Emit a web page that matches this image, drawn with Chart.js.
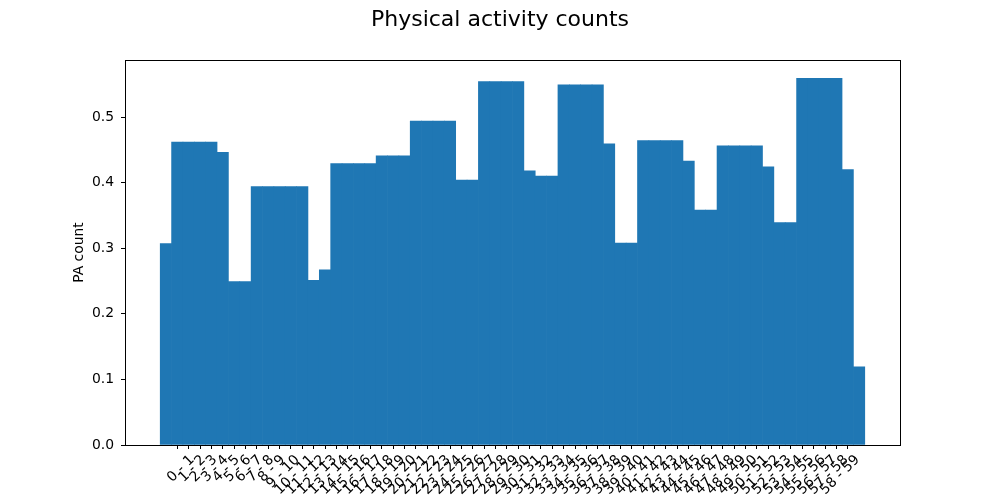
<!DOCTYPE html>
<html>
<head>
<meta charset="utf-8">
<script src="https://cdn.jsdelivr.net/npm/chart.js@4.4.1/dist/chart.umd.min.js"></script>
<style>
    html, body { margin: 0; padding: 0; background: #fff; }
    #wrap { width: 1000px; height: 500px; }
</style>
</head>
<body>
<div id="wrap"><canvas id="paChart" width="1000" height="500"></canvas></div>
<script>
// Tick labels under the x axis, one per tick at 0, 1, ... 58
var tickLabels = [
    '0 - 1', '1 - 2', '2 - 3', '3 - 4', '4 - 5', '5 - 6', '6 - 7', '7 - 8', '8 - 9', '9 - 10',
    '10 - 11', '11 - 12', '12 - 13', '13 - 14', '14 - 15', '15 - 16', '16 - 17', '17 - 18', '18 - 19', '19 - 20',
    '20 - 21', '21 - 22', '22 - 23', '23 - 24', '24 - 25', '25 - 26', '26 - 27', '27 - 28', '28 - 29', '29 - 30',
    '30 - 31', '31 - 32', '32 - 33', '33 - 34', '34 - 35', '35 - 36', '36 - 37', '37 - 38', '38 - 39', '39 - 40',
    '40 - 41', '41 - 42', '42 - 43', '43 - 44', '44 - 45', '45 - 46', '46 - 47', '47 - 48', '48 - 49', '49 - 50',
    '50 - 51', '51 - 52', '52 - 53', '53 - 54', '54 - 55', '55 - 56', '56 - 57', '57 - 58', '58 - 59'
];

// Left edge of the first bin, each bin is one unit wide
var firstBin = -2;

// PA count per bin (62 bins, from -2 to 60)
var paCounts = [
    0.307,
    0.462, 0.462, 0.462, 0.462,
    0.446,
    0.249, 0.249,
    0.394, 0.394, 0.394, 0.394, 0.394,
    0.251,
    0.267,
    0.429, 0.429, 0.429, 0.429,
    0.441, 0.441, 0.441,
    0.494, 0.494, 0.494, 0.494,
    0.404, 0.404,
    0.554, 0.554, 0.554, 0.554,
    0.418,
    0.410, 0.410,
    0.549, 0.549, 0.549, 0.549,
    0.459,
    0.308, 0.308,
    0.464, 0.464, 0.464, 0.464,
    0.433,
    0.358, 0.358,
    0.456, 0.456, 0.456, 0.456,
    0.424,
    0.339, 0.339,
    0.559, 0.559, 0.559, 0.559,
    0.420,
    0.119
];

var yTicks = [0, 0.1, 0.2, 0.3, 0.4, 0.5];

var FONT = '"DejaVu Sans", sans-serif';
var TICK_PX = 13.9;

(function() {
    var points = paCounts.map(function(v, i) {
        return { x: firstBin + i + 0.5, y: v };
    });

    var xMin = firstBin;
    var xMax = firstBin + paCounts.length;
    var xPad = (xMax - xMin) * 0.05;
    var yMax = Math.max.apply(null, paCounts) * 1.05;

    /**
     * Frame, title, y label and the rotated x tick labels, matplotlib style.
     */
    var decorations = {
        id: 'decorations',
        afterDraw: function(chart) {
            var ctx = chart.ctx;
            var area = chart.chartArea;
            var xs = chart.scales.x;

            ctx.save();
            ctx.strokeStyle = '#000';
            ctx.lineWidth = 1;
            ctx.strokeRect(Math.round(area.left) + 0.5, Math.round(area.top) + 0.5,
                Math.round(area.right - area.left), Math.round(area.bottom - area.top));

            // Title
            ctx.fillStyle = '#000';
            ctx.font = '22px ' + FONT;
            ctx.textAlign = 'center';
            ctx.textBaseline = 'alphabetic';
            ctx.fillText('Physical activity counts', 500, 26);

            // Y label
            ctx.save();
            ctx.translate(79, (area.top + area.bottom) / 2);
            ctx.rotate(-Math.PI / 2);
            ctx.font = TICK_PX + 'px ' + FONT;
            ctx.textBaseline = 'middle';
            ctx.fillText('PA count', 0, 0);
            ctx.restore();

            // X tick labels, rotated 45 degrees, bounding box centred under the tick
            var theta = 45 * Math.PI / 180;
            var h = TICK_PX * 1.16;
            ctx.font = TICK_PX + 'px ' + FONT;
            ctx.textAlign = 'center';
            ctx.textBaseline = 'middle';
            tickLabels.forEach(function(label, i) {
                var px = xs.getPixelForValue(i);
                var w = ctx.measureText(label).width;
                var boxH = w * Math.sin(theta) + h * Math.cos(theta);
                ctx.save();
                ctx.translate(px - 2, area.bottom + 7 + boxH / 2);
                ctx.rotate(-theta);
                ctx.fillText(label, 0, 0);
                ctx.restore();
            });
            ctx.restore();
        }
    };

    new Chart(document.getElementById('paChart').getContext('2d'), {
        type: 'bar',
        data: {
            datasets: [{
                label: 'PA count',
                data: points,
                backgroundColor: '#1f77b4',
                borderWidth: 0,
                barPercentage: 1,
                categoryPercentage: 1
            }]
        },
        options: {
            responsive: false,
            animation: false,
            devicePixelRatio: 1,
            layout: { padding: { left: 0, right: 100, top: 60, bottom: 0 } },
            plugins: {
                legend: { display: false },
                title: { display: false },
                tooltip: { enabled: false }
            },
            scales: {
                x: {
                    type: 'linear',
                    offset: false,
                    min: xMin - xPad,
                    max: xMax + xPad,
                    afterBuildTicks: function(scale) {
                        scale.ticks = tickLabels.map(function(l, i) { return { value: i }; });
                    },
                    afterFit: function(scale) { scale.height = 55; },
                    grid: {
                        drawOnChartArea: false,
                        drawTicks: true,
                        tickLength: 4,
                        color: '#000'
                    },
                    border: { display: false },
                    ticks: { display: false }
                },
                y: {
                    min: 0,
                    max: yMax,
                    afterBuildTicks: function(scale) {
                        scale.ticks = yTicks.map(function(v) { return { value: v }; });
                    },
                    afterFit: function(scale) { scale.width = 125; },
                    grid: {
                        drawOnChartArea: false,
                        drawTicks: true,
                        tickLength: 4,
                        color: '#000'
                    },
                    border: { display: false },
                    ticks: {
                        color: '#000',
                        padding: 7,
                        font: { family: FONT, size: TICK_PX },
                        callback: function(v) { return Number(v).toFixed(1); }
                    }
                }
            }
        },
        plugins: [decorations]
    });
})();
</script>
</body>
</html>
